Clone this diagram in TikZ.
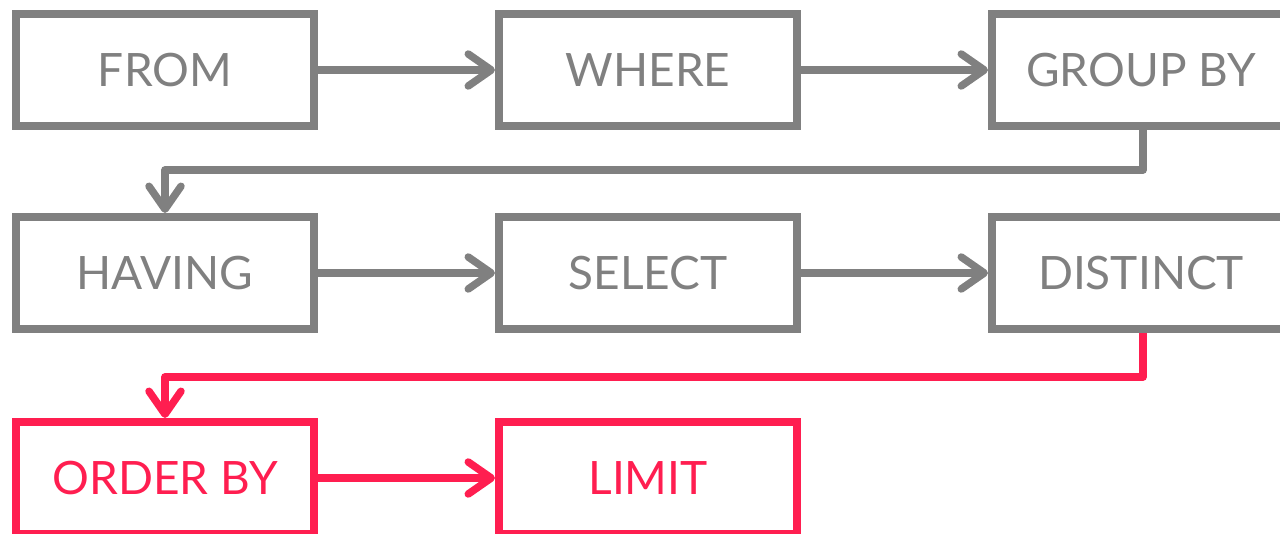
\documentclass[tikz,border=0pt]{standalone}
\usepackage{fontspec}
\setmainfont{Lato}
\usetikzlibrary{arrows.meta}
\definecolor{cgray}{RGB}{128,128,128}
\definecolor{cred}{RGB}{255,30,80}
\begin{document}
\begin{tikzpicture}[x=1pt,y=-1pt,
  box/.style={draw, line width=8pt, minimum width=298pt, minimum height=112pt, inner sep=0pt, font=\fontsize{46}{46}\selectfont},
  gbox/.style={box, draw=cgray, text=cgray},
  rbox/.style={box, draw=cred, text=cred},
  conn/.style={line width=7.5pt, line join=round, -{Straight Barb[length=23pt,width=32pt,round]}},
  gconn/.style={conn, draw=cgray},
  rconn/.style={conn, draw=cred}]
\useasboundingbox (0,0) rectangle (1280,533);
\clip (0,0) rectangle (1280,533);
\node[gbox] (from) at (165,70) {FROM};
\node[gbox] (where) at (648,70) {WHERE};
\node[gbox] (group) at (1141,70) {GROUP BY};
\node[gbox] (having) at (165,273) {HAVING};
\node[gbox] (select) at (648,273) {SELECT};
\node[gbox] (distinct) at (1141,273) {DISTINCT};
\node[rbox] (order) at (165,478) {ORDER BY};
\node[rbox] (limit) at (648,478) {LIMIT};
\coordinate (c1) at (1143,170);
\coordinate (c2) at (1143,377);
\draw[gconn] (from.east) -- (where.west);
\draw[gconn] (where.east) -- (group.west);
\draw[gconn] (group.south -| c1) -- (c1) -| (having.north);
\draw[gconn] (having.east) -- (select.west);
\draw[gconn] (select.east) -- (distinct.west);
\draw[rconn] (distinct.south -| c2) -- (c2) -| (order.north);
\draw[rconn] (order.east) -- (limit.west);
\end{tikzpicture}
\end{document}
